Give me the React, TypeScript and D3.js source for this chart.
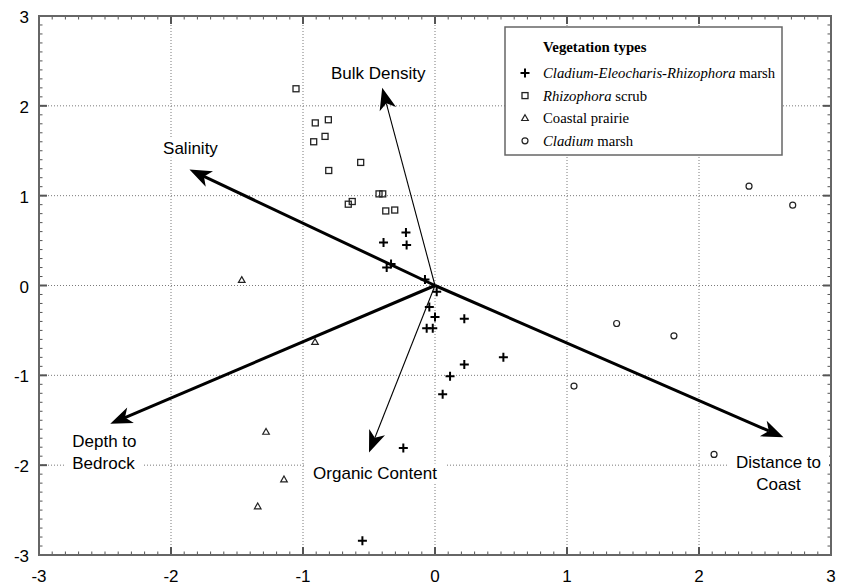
import React, { useEffect, useRef } from 'react';
import * as d3 from 'd3';

// Ordination scores
const marshPoints: [number, number][] = [
  [-0.22, 0.59], [-0.39, 0.48], [-0.215, 0.45], [-0.333, 0.24], [-0.366, 0.2],
  [-0.076, 0.067], [0.013, -0.07], [-0.043, -0.24], [0.0, -0.35], [-0.063, -0.475],
  [-0.017, -0.475], [0.222, -0.37], [0.518, -0.8], [0.222, -0.88], [0.114, -1.01],
  [0.058, -1.21], [-0.24, -1.81], [-0.55, -2.84],
];
const scrubPoints: [number, number][] = [
  [-1.053, 2.19], [-0.907, 1.81], [-0.808, 1.845], [-0.833, 1.66], [-0.919, 1.6],
  [-0.563, 1.37], [-0.805, 1.28], [-0.424, 1.02], [-0.396, 1.02], [-0.657, 0.905],
  [-0.627, 0.935], [-0.373, 0.83], [-0.305, 0.84],
];
const prairiePoints: [number, number][] = [
  [-1.464, 0.06], [-0.909, -0.63], [-1.28, -1.63], [-1.144, -2.16], [-1.343, -2.46],
];
const cladiumPoints: [number, number][] = [
  [2.379, 1.106], [2.71, 0.894], [1.376, -0.423], [1.81, -0.56], [1.053, -1.12], [2.114, -1.88],
];

const vectorNames = ['Salinity', 'Bulk Density', 'Depth to Bedrock', 'Organic Content', 'Distance to Coast'];
const vectorX = [-1.86, -0.40, -2.46, -0.50, 2.64];
const vectorY = [1.29, 2.2, -1.54, -1.86, -1.69];

const axisTicks = [-3, -2, -1, 0, 1, 2, 3];

// label layout relative to arrow tip (pixels)
const labelLayout: Record<string, { lines: string[]; dx: number; dy: number; anchor: string; bold: boolean }> = {
  'Salinity': { lines: ['Salinity'], dx: 1, dy: -16, anchor: 'middle', bold: true },
  'Bulk Density': { lines: ['Bulk Density'], dx: -4, dy: -9, anchor: 'middle', bold: false },
  'Depth to Bedrock': { lines: ['Depth to', 'Bedrock'], dx: -38, dy: 23, anchor: 'start', bold: true },
  'Organic Content': { lines: ['Organic Content'], dx: 6, dy: 26, anchor: 'middle', bold: false },
  'Distance to Coast': { lines: ['Distance to', 'Coast'], dx: -5, dy: 31, anchor: 'middle', bold: true },
};

const W = 842;
const H = 587;
const sans = 'Arial, "Liberation Sans", sans-serif';
const serif = '"Times New Roman", "Liberation Serif", serif';

export default function App() {
  const svgRef = useRef<SVGSVGElement>(null);

  useEffect(() => {
    if (!svgRef.current) return;
    const svg = d3.select(svgRef.current);
    svg.selectAll('*').remove();

    const x = d3.scaleLinear().domain([-3, 3]).range([39, 831]);
    const y = d3.scaleLinear().domain([-3, 3]).range([555, 16]);
    const [x0, x1] = x.range();
    const [y0, y1] = y.range();

    svg.append('rect').attr('width', W).attr('height', H).attr('fill', '#fff');

    // grid
    const inner = axisTicks.filter(t => t > -3 && t < 3);
    const grid = svg.append('g').attr('stroke', '#7a7a7a').attr('stroke-width', 1).attr('stroke-dasharray', '1,2');
    inner.forEach(t => {
      grid.append('line').attr('x1', x(t)).attr('x2', x(t)).attr('y1', y1).attr('y2', y0);
      grid.append('line').attr('y1', y(t)).attr('y2', y(t)).attr('x1', x0).attr('x2', x1);
    });

    // ticks on all four sides, pointing inward
    const minor = d3.range(-30, 31).map(i => i / 10);
    const ticks = svg.append('g').attr('stroke', '#555');
    minor.forEach(t => {
      const major = Math.abs(t - Math.round(t)) < 1e-6;
      const len = major ? 8 : 3.5;
      const sw = major ? 2 : 1;
      ticks.append('line').attr('x1', x(t)).attr('x2', x(t)).attr('y1', y0).attr('y2', y0 - len).attr('stroke-width', sw);
      ticks.append('line').attr('x1', x(t)).attr('x2', x(t)).attr('y1', y1).attr('y2', y1 + len).attr('stroke-width', sw);
      ticks.append('line').attr('y1', y(t)).attr('y2', y(t)).attr('x1', x0).attr('x2', x0 + len).attr('stroke-width', sw);
      ticks.append('line').attr('y1', y(t)).attr('y2', y(t)).attr('x1', x1).attr('x2', x1 - len).attr('stroke-width', sw);
    });

    // tick labels
    axisTicks.forEach(t => {
      svg.append('text').attr('x', x(t)).attr('y', y0 + 27).attr('text-anchor', 'middle')
        .style('font-family', sans).style('font-size', '17px').text(String(t));
      svg.append('text').attr('x', x0 - 10).attr('y', y(t) + 7).attr('text-anchor', 'end')
        .style('font-family', sans).style('font-size', '17px').text(String(t));
    });

    // vectors
    const ox = x(0);
    const oy = y(0);
    const L = 22, Wd = 8.5, N = 6;
    vectorNames.forEach((name, i) => {
      const tx = x(vectorX[i]);
      const ty = y(vectorY[i]);
      const ang = Math.atan2(ty - oy, tx - ox);
      const thick = labelLayout[name].bold;
      const ex = tx - Math.cos(ang) * (L - N);
      const ey = ty - Math.sin(ang) * (L - N);
      svg.append('line').attr('x1', ox).attr('y1', oy).attr('x2', ex).attr('y2', ey)
        .attr('stroke', '#000').attr('stroke-width', thick ? 3 : 1.1);
      const deg = (ang * 180) / Math.PI;
      svg.append('path')
        .attr('d', `M0,0 L${-L},${-Wd} L${-L + N},0 L${-L},${Wd} Z`)
        .attr('transform', `translate(${tx},${ty}) rotate(${deg})`)
        .attr('fill', '#000');

      const lay = labelLayout[name];
      lay.lines.forEach((ln, j) => {
        const t = svg.append('text')
          .attr('x', tx + lay.dx).attr('y', ty + lay.dy + j * 22)
          .attr('text-anchor', lay.anchor)
          .style('font-family', sans).style('font-size', '17px').attr('fill', '#000')
          .text(ln);
        const bb = (t.node() as SVGTextElement).getBBox();
        svg.insert('rect', () => t.node() as any)
          .attr('x', bb.x - 8).attr('y', bb.y).attr('width', bb.width + 16).attr('height', bb.height)
          .attr('fill', '#fff');
      });
    });

    // point symbols
    const drawSym = (g: d3.Selection<SVGGElement, unknown, null, undefined>, kind: string, px: number, py: number) => {
      if (kind === 'plus') {
        g.append('path').attr('d', `M${px - 4.5},${py} H${px + 4.5} M${px},${py - 4.5} V${py + 4.5}`)
          .attr('stroke', '#000').attr('stroke-width', 2).attr('fill', 'none');
      } else if (kind === 'square') {
        g.append('rect').attr('x', px - 3).attr('y', py - 3).attr('width', 6).attr('height', 6)
          .attr('stroke', '#222').attr('stroke-width', 1.3).attr('fill', 'none');
      } else if (kind === 'triangle') {
        g.append('path').attr('d', `M${px},${py - 3.5} L${px + 3.3},${py + 2.3} L${px - 3.3},${py + 2.3} Z`)
          .attr('stroke', '#222').attr('stroke-width', 1.2).attr('fill', 'none');
      } else {
        g.append('circle').attr('cx', px).attr('cy', py).attr('r', 3)
          .attr('stroke', '#222').attr('stroke-width', 1.2).attr('fill', 'none');
      }
    };

    const pts = svg.append('g');
    const groups: [string, [number, number][]][] = [
      ['plus', marshPoints], ['square', scrubPoints], ['triangle', prairiePoints], ['circle', cladiumPoints],
    ];
    groups.forEach(([kind, data]) => data.forEach(d => drawSym(pts, kind, x(d[0]), y(d[1]))));

    // legend
    const lg = svg.append('g');
    lg.append('rect').attr('x', 505).attr('y', 27).attr('width', 277).attr('height', 128)
      .attr('fill', '#fff').attr('stroke', '#666').attr('stroke-width', 1.5);
    lg.append('text').attr('x', 543).attr('y', 52).style('font-family', serif).style('font-size', '14.8px')
      .style('font-weight', 'bold').text('Vegetation types');
    const legendRows: { kind: string; parts: [string, boolean][] }[] = [
      { kind: 'plus', parts: [['Cladium-Eleocharis-Rhizophora', true], [' marsh', false]] },
      { kind: 'square', parts: [['Rhizophora', true], [' scrub', false]] },
      { kind: 'triangle', parts: [['Coastal prairie', false]] },
      { kind: 'circle', parts: [['Cladium', true], [' marsh', false]] },
    ];
    legendRows.forEach((row, i) => {
      const cy = 73 + i * 22.6;
      drawSym(lg, row.kind, 525, cy);
      const t = lg.append('text').attr('x', 543).attr('y', cy + 5)
        .style('font-family', serif).style('font-size', '14.7px');
      row.parts.forEach(([s, it]) => {
        t.append('tspan').style('font-style', it ? 'italic' : 'normal').text(s);
      });
    });

    // frame
    svg.append('rect').attr('x', x0).attr('y', y1).attr('width', x1 - x0).attr('height', y0 - y1)
      .attr('fill', 'none').attr('stroke', '#666').attr('stroke-width', 2);
  }, []);

  return (
    <div style={{ position: 'absolute', left: 0, top: 0 }}>
      <svg ref={svgRef} width={W} height={H} style={{ display: 'block' }}></svg>
    </div>
  );
}
